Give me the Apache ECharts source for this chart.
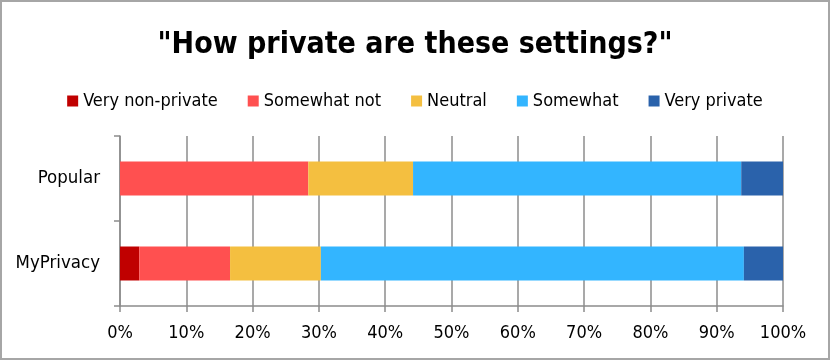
<!DOCTYPE html>
<html>
<head>
<meta charset="utf-8">
<script src="https://cdn.jsdelivr.net/npm/echarts@6/dist/echarts.min.js"></script>
<style>
  html, body { margin: 0; padding: 0; background: #fff; }
  #chart { width: 830px; height: 360px; box-sizing: border-box; border: 2px solid #a6a6a6; }
</style>
</head>
<body>
<div id="chart"></div>
<script>
// categories on the y axis (top to bottom)
var categories = ['Popular', 'MyPrivacy'];
var seriesNames = ['Very non-private', 'Somewhat not', 'Neutral', 'Somewhat', 'Very private'];
var colors = ['#c00000', '#ff5050', '#f4bf40', '#33b5ff', '#2a62ab'];
// percent values per answer, [Popular, MyPrivacy]
var veryNonPrivate = [0, 2.9];
var somewhatNot = [28.4, 13.7];
var neutral = [15.8, 13.7];
var somewhat = [49.5, 63.8];
var veryPrivate = [6.3, 5.9];
var xTicks = [0, 10, 20, 30, 40, 50, 60, 70, 80, 90, 100];

var allData = [veryNonPrivate, somewhatNot, neutral, somewhat, veryPrivate];
var font = 'Liberation Sans Narrow, DejaVu Sans Condensed, sans-serif';

var chart = echarts.init(document.getElementById('chart'));
chart.setOption({
  animation: false,
  title: {
    text: '"How private are these settings?"',
    left: 'center',
    top: 23,
    textStyle: { fontFamily: font, fontSize: 30, fontWeight: 'bold', color: '#000' }
  },
  legend: {
    data: seriesNames,
    top: 85,
    left: 'center',
    itemWidth: 11,
    itemHeight: 11,
    itemGap: 30,
    icon: 'rect',
    textStyle: { fontFamily: font, fontSize: 18, color: '#000' }
  },
  grid: { left: 118, right: 45, top: 134, bottom: 52 },
  xAxis: {
    type: 'value',
    min: xTicks[0],
    max: xTicks[xTicks.length - 1],
    interval: 10,
    axisLabel: { formatter: '{value}%', fontFamily: font, fontSize: 18, color: '#000', margin: 18 },
    axisLine: { show: true, lineStyle: { color: '#8c8c8c', width: 1.5 } },
    axisTick: { show: true, length: 6, lineStyle: { color: '#8c8c8c', width: 1.5 } },
    splitLine: { show: true, lineStyle: { color: '#8c8c8c', width: 1.5 } }
  },
  yAxis: {
    type: 'category',
    data: categories,
    inverse: true,
    axisLabel: { fontFamily: font, fontSize: 18.5, color: '#000', margin: 20 },
    axisLine: { show: true, lineStyle: { color: '#8c8c8c', width: 1.5 } },
    axisTick: { show: true, length: 6, alignWithLabel: false, lineStyle: { color: '#8c8c8c', width: 1.5 } }
  },
  series: seriesNames.map(function (name, i) {
    return {
      name: name,
      type: 'bar',
      stack: 'total',
      barWidth: '40%',
      itemStyle: { color: colors[i] },
      data: allData[i]
    };
  })
});
</script>
</body>
</html>
